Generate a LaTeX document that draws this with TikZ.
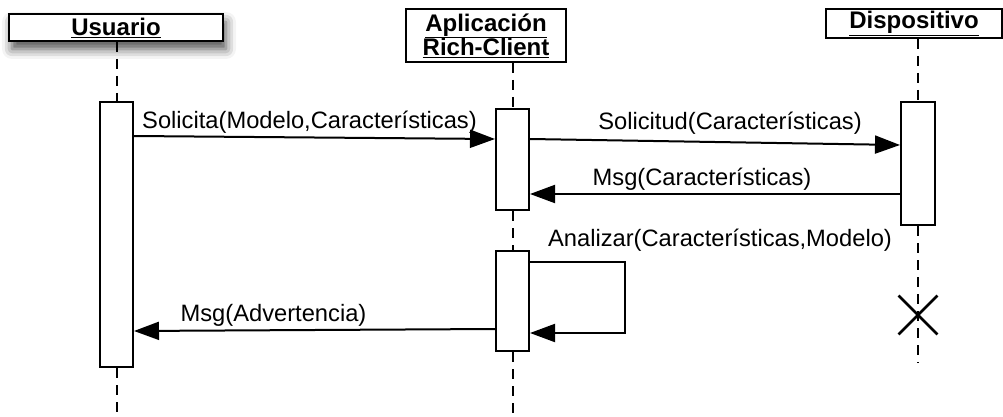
\documentclass[tikz,border=0pt]{standalone}
\usepackage{fontspec}
\setmainfont{Liberation Sans}
\usetikzlibrary{arrows.meta,shapes.misc,shadows.blur}

\begin{document}
\begin{tikzpicture}[x=1pt,y=-1pt,>={Triangle[length=25pt,width=18pt]},
  font=\fontsize{23.7}{27}\selectfont,line width=2pt]
 \tikzset{
  obj/.style={draw,fill=white,inner sep=0pt,align=center,
   font=\fontsize{24}{25}\selectfont\bfseries},
  act/.style={draw,fill=white,inner sep=0pt,minimum width=33pt},
  life/.style={line width=2pt,dash pattern=on 10pt off 7pt},
  msg/.style={->},
  lbl/.style={above,inner sep=3pt}
 }
 \useasboundingbox (0,0) rectangle (1003,417);

 % objects
 \node[obj,minimum width=214pt,minimum height=27pt,
  blur shadow={shadow xshift=3pt,shadow yshift=-8pt,shadow blur radius=10pt,shadow opacity=70}]
  (usr) at (116,27.5) {\underline{Usuario}};
 \node[obj,minimum width=160pt,minimum height=53pt] (app) at (486,35.5)
  {\underline{Aplicación}\\[-1pt]\underline{Rich-Client}};
 \node[obj,minimum width=176pt,minimum height=29pt] (dev) at (914,23.5)
  {\underline{Dispositivo}};

 % activations
 \node[act,minimum height=265pt] (aU) at (116.5,234.5) {};
 \node[act,minimum height=101pt] (aA1) at (512.5,159.5) {};
 \node[act,minimum height=100pt] (aA2) at (512.5,301) {};
 \node[act,minimum height=123pt,minimum width=34pt] (aD) at (918,163.5) {};
 \node[draw,cross out,minimum size=36pt,inner sep=0pt,line width=2.8pt] (kill) at (aD.center |- 0,315) {};

 % lifelines
 \draw[life] (usr.south -| aU) -- (aU.north);
 \draw[life] (aU.south) -- (aU.south |- 0,417);
 \draw[life] (app.south -| aA1) -- (aA1.north);
 \draw[life] (aA1.south) -- (aA2.north);
 \draw[life] (aA2.south) -- (aA2.south |- 0,417);
 \draw[life] (dev.south -| aD) -- (aD.north);
 \draw[life] (aD.south) -- (aD.south |- 0,363);

 % messages
 \draw[msg] (aU.east |- 0,136) -- node[lbl,xshift=-5pt] {Solicita(Modelo,Características)} (aA1.west |- 0,139);
 \draw[msg] (aA1.east |- 0,139) -- node[lbl,xshift=15pt,yshift=4pt] {Solicitud(Características)} (aD.west |- 0,145);
 \draw[msg] (aD.west |- 0,194) -- node[lbl,xshift=-13pt] {Msg(Características)} (aA1.east |- 0,194);
 \draw[msg] (aA2.east |- 0,262) -| (625,333) -- (aA2.east |- 0,333);
 \node (anl) at (720,240) {Analizar(Características,Modelo)};
 \draw[msg] (aA2.west |- 0,329) -- node[lbl,xshift=-41pt] {Msg(Advertencia)} (aU.east |- 0,331);
\end{tikzpicture}
\end{document}
